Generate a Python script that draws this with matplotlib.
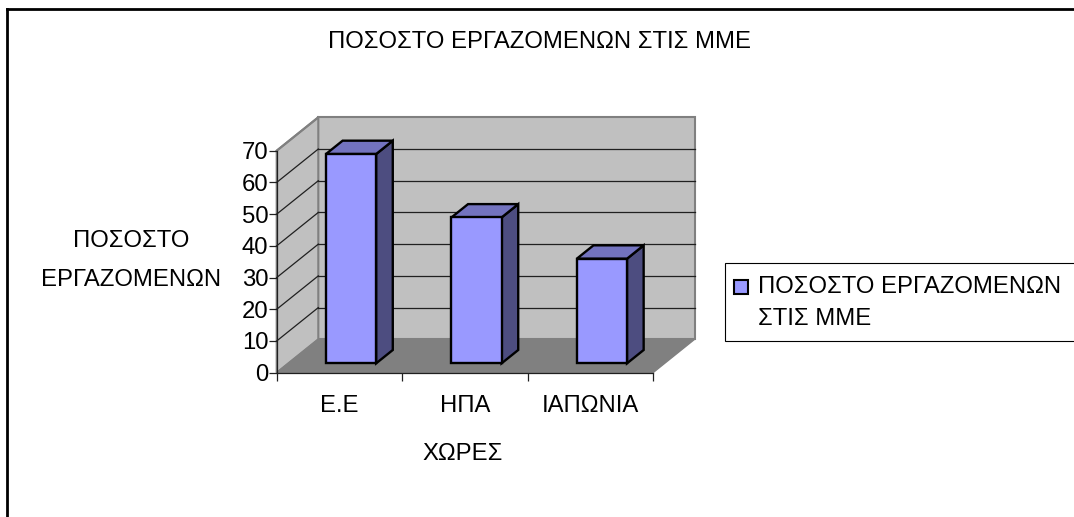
"""Excel-style pseudo-3D column chart: share of employees in SMEs."""
import matplotlib
matplotlib.use("Agg")
import matplotlib.pyplot as plt
from matplotlib.lines import Line2D
from matplotlib.patches import Polygon, Rectangle

W, H = 1074, 517

countries = ["Ε.Ε", "ΗΠΑ", "ΙΑΠΩΝΙΑ"]
shares = [66, 46, 33]
y_ticks = [0, 10, 20, 30, 40, 50, 60, 70]

title = "ΠΟΣΟΣΤΟ ΕΡΓΑΖΟΜΕΝΩΝ ΣΤΙΣ ΜΜΕ"
x_label = "ΧΩΡΕΣ"
y_label = "ΠΟΣΟΣΤΟ\nΕΡΓΑΖΟΜΕΝΩΝ"
legend_lines = ["ΠΟΣΟΣΤΟ ΕΡΓΑΖΟΜΕΝΩΝ", "ΣΤΙΣ ΜΜΕ"]

# pixel box of the chart's front plane, and the depth offset of the back wall
LEFT, RIGHT, BOTTOM, TOP = 276.7, 653.0, 372.7, 150.7
DEPTH_PX = (41.6, 33.4)

plt.rcParams["font.family"] = ["Liberation Sans", "DejaVu Sans"]
FS = 17.2

fig = plt.figure(figsize=(W / 100, H / 100), dpi=100, facecolor="white")
ax = fig.add_axes([LEFT / W, 1 - BOTTOM / H, (RIGHT - LEFT) / W, (BOTTOM - TOP) / H])
ax.patch.set_visible(False)
ax.set_xlim(0, len(countries))
ax.set_ylim(0, 70)

dx = DEPTH_PX[0] / ((RIGHT - LEFT) / len(countries))
dy = DEPTH_PX[1] / ((BOTTOM - TOP) / 70)


def shifted(x, y, d):
    return (x + d * dx, y + d * dy)


def poly(points, **kw):
    ax.add_patch(Polygon(points, closed=True, clip_on=False, **kw))


wall = dict(facecolor="#C0C0C0", edgecolor="#808080", linewidth=1.5, zorder=1)
n = len(countries)
poly([shifted(0, 0, 1), shifted(n, 0, 1), shifted(n, 70, 1), shifted(0, 70, 1)], **wall)
poly([(0, 0), shifted(0, 0, 1), shifted(0, 70, 1), (0, 70)], **wall)
poly([(0, 0), (n, 0), shifted(n, 0, 1), shifted(0, 0, 1)],
     facecolor="#808080", edgecolor="#808080", linewidth=1.0, zorder=1.2)

for v in y_ticks[1:]:
    x0, y0 = shifted(0, v, 1)
    x1, y1 = shifted(n, v, 1)
    if v < 70:
        ax.plot([x0, x1], [y0, y1], color="#202020", lw=0.9, clip_on=False, zorder=1.5)
    ax.plot([0, x0], [v, y0], color="#202020" if v < 70 else "#808080",
            lw=0.9 if v < 70 else 1.5, clip_on=False, zorder=1.5)

# columns: they sit part-way into the depth of the floor
D0, D1 = 0.28, 0.68
BAR_W = 0.40
centers = [i + 0.5 for i in range(n)]
edge = dict(edgecolor="black", linewidth=1.7, joinstyle="miter")
for c, v in zip(centers, shares):
    l, r = c - BAR_W / 2, c + BAR_W / 2
    poly([shifted(r, 0, D0), shifted(r, 0, D1), shifted(r, v, D1), shifted(r, v, D0)],
         facecolor="#4D4D80", zorder=3, **edge)
    poly([shifted(l, v, D0), shifted(r, v, D0), shifted(r, v, D1), shifted(l, v, D1)],
         facecolor="#7373BF", zorder=3, **edge)
ax.bar([c + D0 * dx for c in centers], shares, width=BAR_W, bottom=D0 * dy,
       color="#9999FF", zorder=4, clip_on=False, **edge)

for side in ("top", "right"):
    ax.spines[side].set_visible(False)
for side in ("left", "bottom"):
    ax.spines[side].set_linewidth(0.9)
    ax.spines[side].set_color("#202020")
    ax.spines[side].set_zorder(2)

ax.set_yticks(y_ticks)
ax.tick_params(axis="y", labelsize=FS, length=6, width=0.9, pad=0, color="#202020")
ax.set_xticks(range(n + 1))
ax.set_xticklabels([])
ax.tick_params(axis="x", which="major", length=6, width=0.9, color="#202020")
ax.set_xticks(centers, labels=countries, minor=True)
ax.tick_params(axis="x", which="minor", length=0, labelsize=FS, pad=16)


def fig_text(px, py, s, **kw):
    fig.text(px / W, 1 - py / H, s, fontsize=FS, color="black", **kw)


fig_text(540, 41.5, title, ha="center", va="center")
fig_text(463, 453.5, x_label, ha="center", va="center")
fig_text(131, 260.5, y_label, ha="center", va="center", linespacing=1.95)

# legend box, cut by the right edge of the image
fig.add_artist(Rectangle((726 / W, 1 - 342 / H), 352 / W, 79 / H, transform=fig.transFigure,
                         facecolor="#808080", edgecolor="none"))
fig.add_artist(Rectangle((724.7 / W, 1 - 340.7 / H), 352 / W, 78 / H, transform=fig.transFigure,
                         facecolor="white", edgecolor="black", linewidth=0.8))
fig.add_artist(Rectangle((734 / W, 1 - 294 / H), 14 / W, 14 / H, transform=fig.transFigure,
                         facecolor="#9999FF", edgecolor="black", linewidth=1.5))
fig_text(758, 287, legend_lines[0], ha="left", va="center")
fig_text(758, 319, legend_lines[1], ha="left", va="center")

# outer chart frame, only top and left fall inside the image
fig.add_artist(Line2D([6.5 / W, 6.5 / W], [0, 1 - 9 / H], transform=fig.transFigure,
                      color="black", lw=2.0, solid_capstyle="projecting"))
fig.add_artist(Line2D([6.5 / W, 1], [1 - 9 / H, 1 - 9 / H], transform=fig.transFigure,
                      color="black", lw=2.0, solid_capstyle="projecting"))

fig.savefig("out.png", dpi=100)
